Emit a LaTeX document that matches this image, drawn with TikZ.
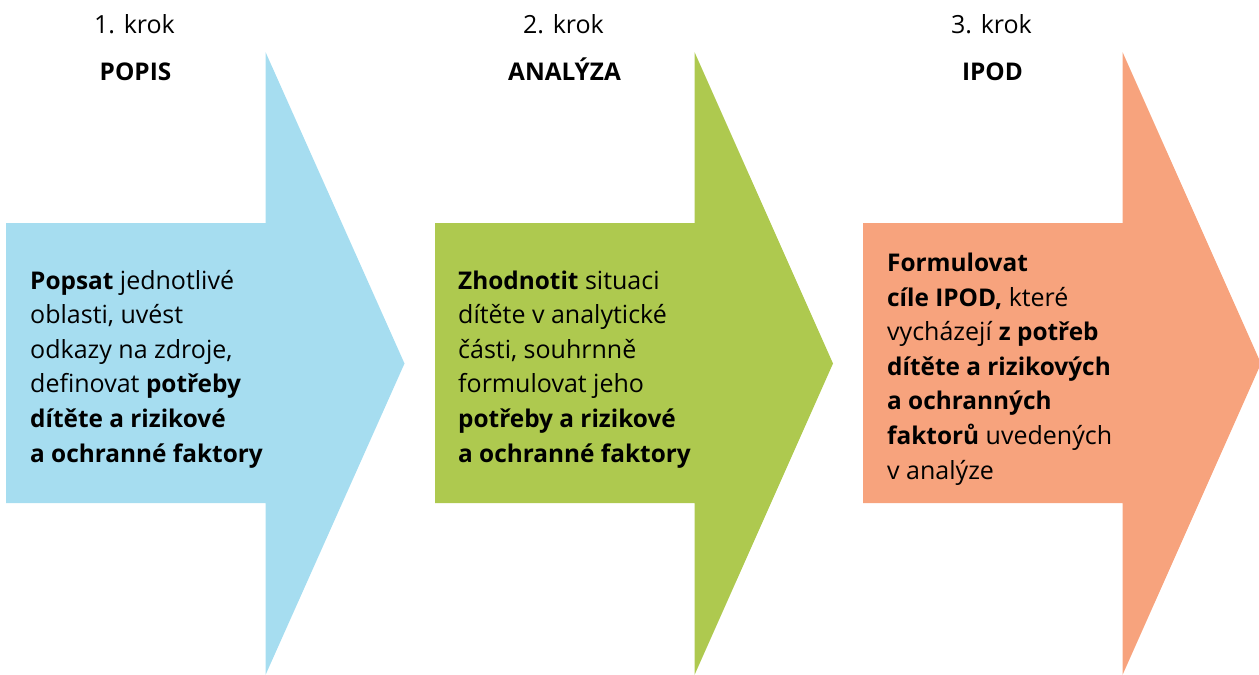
\documentclass[tikz,border=0pt]{standalone}
\usepackage{fontspec}
\setmainfont{Open Sans}[BoldFeatures={Scale=0.975}]
\definecolor{cblue}{HTML}{A6DDF0}
\definecolor{cgreen}{HTML}{AEC94F}
\definecolor{corange}{HTML}{F7A37D}
\tikzset{
  steptext/.style={anchor=base west, align=left, inner sep=0pt, font=\fontsize{25}{34.6}\selectfont},
  stepnum/.style={anchor=base, inner sep=0pt, font=\fontsize{25}{30}\selectfont},
  steptitle/.style={anchor=base, inner sep=0pt, font=\fontsize{25}{30}\selectfont\bfseries},
}
\newcommand{\bigarrow}[3]{%
  \fill[#3] (#1,223) -- (#1+259.5,223) -- (#1+259.5,52) -- (#1+#2,363.5) -- (#1+259.5,675) -- (#1+259.5,503) -- (#1,503) -- cycle;}
\begin{document}
\begin{tikzpicture}[x=1pt,y=-1pt]
\useasboundingbox (0,0) rectangle (1259,675);
\bigarrow{6}{398.5}{cblue}
\bigarrow{435}{398}{cgreen}
\bigarrow{863}{398}{corange}
\node[stepnum] (n1) at (134.5,33) {1. krok};
\node[steptitle] (t1) at (135.5,80) {POPIS};
\node[stepnum] (n2) at (563.5,33) {2. krok};
\node[steptitle] (t2) at (564.5,80) {ANALÝZA};
\node[stepnum] (n3) at (991.5,33) {3. krok};
\node[steptitle] (t3) at (992.5,80) {IPOD};
\node[steptext] (b1) at (30,462) {\textbf{Popsat} jednotlivé\\oblasti, uvést\\odkazy na zdroje,\\definovat \textbf{potřeby}\\\textbf{dítěte a rizikové}\\\textbf{a ochranné faktory}};
\node[steptext] (b2) at (458,462) {\textbf{Zhodnotit} situaci\\dítěte v analytické\\části, souhrnně\\formulovat jeho\\\textbf{potřeby a rizikové}\\\textbf{a ochranné faktory}};
\node[steptext] (b3) at (887,479) {\textbf{Formulovat}\\\textbf{cíle IPOD,} které\\vycházejí \textbf{z potřeb}\\\textbf{dítěte a rizikových}\\\textbf{a ochranných}\\\textbf{faktorů} uvedených\\v analýze};
\end{tikzpicture}
\end{document}
